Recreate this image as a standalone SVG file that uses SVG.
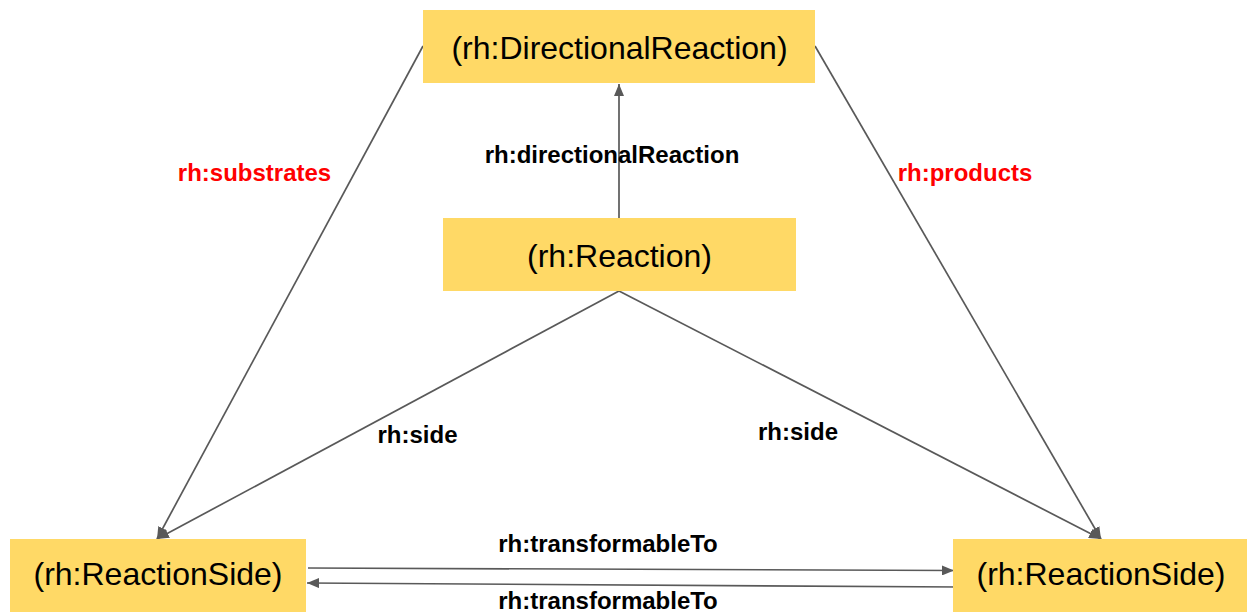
<svg xmlns="http://www.w3.org/2000/svg" width="1247" height="612" viewBox="0 0 1247 612">
<style>
.node{fill:#ffd966}
.nl{font-family:"Liberation Sans",Arial,sans-serif;font-size:32px;fill:#000;text-anchor:middle}
.el{font-family:"Liberation Sans",Arial,sans-serif;font-size:24px;font-weight:bold;fill:#000;text-anchor:middle}
.red{fill:#ff0000}
.c{stroke:#595959;stroke-width:1.7;fill:none}
</style>
<defs>
<marker id="ah" viewBox="0 0 12 10" refX="12" refY="5" markerWidth="12" markerHeight="10" markerUnits="userSpaceOnUse" orient="auto">
<path d="M0,0 L12,5 L0,10 z" fill="#595959"/>
</marker>
</defs>
<rect width="1247" height="612" fill="#fff"/>
<g id="connectors">
<line class="c" x1="619" y1="218" x2="619" y2="84" marker-end="url(#ah)"/>
<line class="c" x1="423" y1="46" x2="157" y2="539" marker-end="url(#ah)"/>
<line class="c" x1="815" y1="46" x2="1101" y2="539" marker-end="url(#ah)"/>
<line class="c" x1="619" y1="291" x2="157" y2="539" marker-end="url(#ah)"/>
<line class="c" x1="619" y1="291" x2="1101" y2="539" marker-end="url(#ah)"/>
<line class="c" x1="308" y1="568" x2="954" y2="570.5" marker-end="url(#ah)"/>
<line class="c" x1="959" y1="587" x2="307" y2="583" marker-end="url(#ah)"/>
<text class="el" x="612" y="163">rh:directionalReaction</text>
<text class="el red" x="254.5" y="181">rh:substrates</text>
<text class="el red" x="965" y="181">rh:products</text>
<text class="el" x="417.5" y="443">rh:side</text>
<text class="el" x="798" y="440">rh:side</text>
<text class="el" x="608" y="552">rh:transformableTo</text>
<text class="el" x="608" y="609">rh:transformableTo</text>
</g>
<g id="directionalReaction">
<rect class="node" x="423" y="10" width="392" height="73"/>
<text class="nl" x="619.5" y="59">(rh:DirectionalReaction)</text>
</g>
<g id="reaction">
<rect class="node" x="443" y="218" width="353" height="73"/>
<text class="nl" x="619.5" y="267">(rh:Reaction)</text>
</g>
<g id="reactionSideLeft">
<rect class="node" x="10" y="539" width="296" height="80"/>
<text class="nl" x="158" y="585">(rh:ReactionSide)</text>
</g>
<g id="reactionSideRight">
<rect class="node" x="953" y="539" width="300" height="80"/>
<text class="nl" x="1101" y="585">(rh:ReactionSide)</text>
</g>
</svg>
